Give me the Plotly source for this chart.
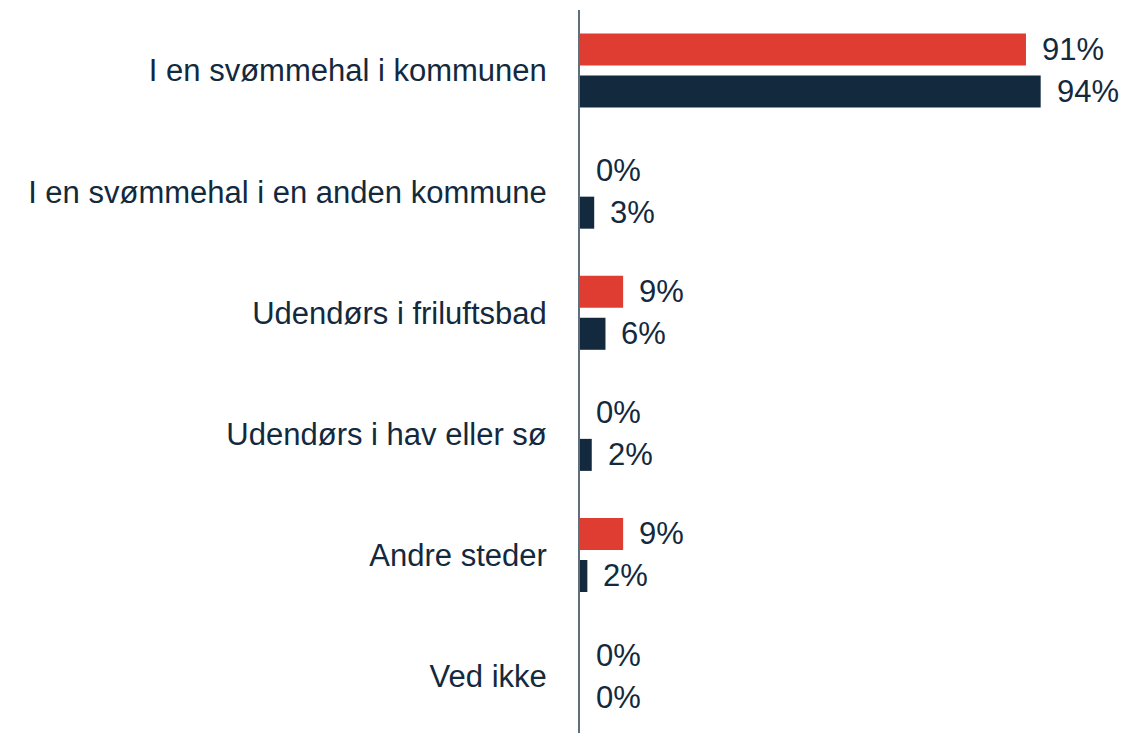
import plotly.graph_objects as go

categories = [
    "I en svømmehal i kommunen",
    "I en svømmehal i en anden kommune",
    "Udendørs i friluftsbad",
    "Udendørs i hav eller sø",
    "Andre steder",
    "Ved ikke",
]
red_values = [91, 0, 8.8, 0, 8.8, 0]
navy_values = [94, 2.9, 5.2, 2.4, 1.5, 0]
red_labels = ["91%", "0%", "9%", "0%", "9%", "0%"]
navy_labels = ["94%", "3%", "6%", "2%", "2%", "0%"]

RED = "#E03D32"
NAVY = "#13293D"
FONT = "Liberation Sans, Arial, sans-serif"
FS = 31

fig = go.Figure()
fig.add_trace(go.Bar(y=categories, x=red_values, orientation="h",
                     marker=dict(color=RED, line=dict(width=0)), name="A"))
fig.add_trace(go.Bar(y=categories, x=navy_values, orientation="h",
                     marker=dict(color=NAVY, line=dict(width=0)), name="B"))

ann = []
for i, (v, t) in enumerate(zip(red_values, red_labels)):
    ann.append(dict(x=v, y=i, xref="x", yref="y", text=t, showarrow=False,
                    xanchor="left", yanchor="middle", xshift=14, yshift=21,
                    font=dict(family=FONT, size=FS, color=NAVY)))
for i, (v, t) in enumerate(zip(navy_values, navy_labels)):
    ann.append(dict(x=v, y=i, xref="x", yref="y", text=t, showarrow=False,
                    xanchor="left", yanchor="middle", xshift=14, yshift=-21,
                    font=dict(family=FONT, size=FS, color=NAVY)))

fig.update_layout(
    width=1124, height=733,
    margin=dict(l=580, r=0, t=10, b=0),
    paper_bgcolor="white", plot_bgcolor="white",
    barmode="group", bargap=0.306, bargroupgap=0.238,
    showlegend=False,
    annotations=ann,
    font=dict(family=FONT, size=FS, color=NAVY),
)
fig.update_xaxes(range=[0, 111], visible=False, showgrid=False, zeroline=False)
fig.update_yaxes(type="category", range=[5.47, -0.5], showgrid=False, zeroline=False,
                 showline=True, linecolor="#5F6F7E", linewidth=2,
                 ticks="", ticklabelstandoff=25,
                 tickfont=dict(family=FONT, size=FS, color=NAVY))

fig.write_html(
    "out.html",
    config={"displayModeBar": False},
    post_script="document.body.style.margin='0';document.body.style.overflow='hidden';"
                "document.documentElement.style.overflow='hidden';",
)
